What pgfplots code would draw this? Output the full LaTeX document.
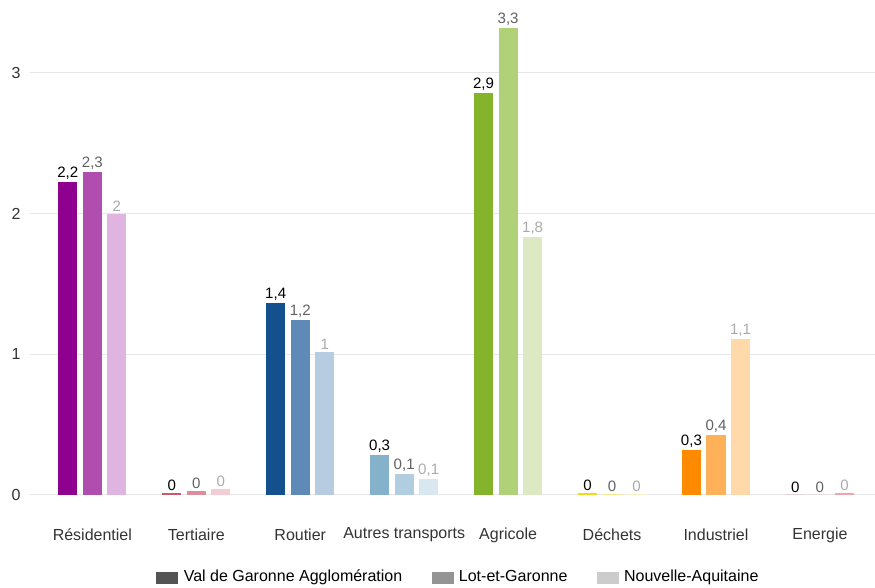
\documentclass[border=0pt]{standalone}
\usepackage{pgfplots}
\pgfplotsset{compat=1.18}
\usepackage{fontspec}
\setmainfont{Liberation Sans}

% category palettes: dark / medium / light
\definecolor{res1}{HTML}{8E008E}\definecolor{res2}{HTML}{B04EB0}\definecolor{res3}{HTML}{E0B4E0}
\definecolor{ter1}{HTML}{C9596D}\definecolor{ter2}{HTML}{DD8E9D}\definecolor{ter3}{HTML}{F2CDD4}
\definecolor{rou1}{HTML}{12508E}\definecolor{rou2}{HTML}{5F8AB8}\definecolor{rou3}{HTML}{B7CBE1}
\definecolor{aut1}{HTML}{85B1CB}\definecolor{aut2}{HTML}{B1CDE0}\definecolor{aut3}{HTML}{D9E7F1}
\definecolor{agr1}{HTML}{84B42B}\definecolor{agr2}{HTML}{B1D178}\definecolor{agr3}{HTML}{DDE9C2}
\definecolor{dec1}{HTML}{F3D81C}\definecolor{dec2}{HTML}{F5E78C}\definecolor{dec3}{HTML}{FAF1C9}
\definecolor{ind1}{HTML}{FF8A00}\definecolor{ind2}{HTML}{FFB15A}\definecolor{ind3}{HTML}{FFD9A9}
\definecolor{ene1}{HTML}{E05A6A}\definecolor{ene2}{HTML}{EA8C98}\definecolor{ene3}{HTML}{F0A4AE}
\definecolor{gridgray}{HTML}{E6E6E6}

\pgfplotsset{
  s1/.style={bar shift=-18.4pt, nodes near coords style={text=black}},
  s2/.style={bar shift=0pt, nodes near coords style={text=black!62}},
  s3/.style={bar shift=18.4pt, nodes near coords style={text=black!33}},
}

\begin{document}
\begin{tikzpicture}
\useasboundingbox (0,0) rectangle (656.25pt,441pt);
\begin{axis}[
  at={(22.5pt,59.25pt)}, anchor=south west,
  scale only axis, width=633.75pt, height=379.9pt,
  xmin=-0.6, xmax=7.53, ymin=-0.1, ymax=3.5,
  ybar, bar width=14.3pt,
  axis line style={draw=none}, major tick length=0pt,
  ymajorgrids, grid style={gridgray, line width=0.8pt},
  ytick={0,1,2,3},
  xtick={0,...,7},
  xticklabels={Résidentiel,Tertiaire,Routier,Autres transports,Agricole,Déchets,Industriel,Energie},
  xticklabel style={anchor=center, yshift=-19.5pt, text=black!80, font=\fontsize{12}{14}\selectfont},
  yticklabel style={anchor=center, xshift=-10.5pt, text=black!80, font=\fontsize{12}{14}\selectfont},
  /pgf/number format/assume math mode=true,
  nodes near coords,
  every node near coord/.append style={font=\fontsize{11.3}{13}\selectfont, inner sep=1.5pt,
    /pgf/number format/fixed, /pgf/number format/precision=1, /pgf/number format/use comma},
  every axis plot/.append style={draw=none},
  legend columns=3,
  legend style={at={(0.509,-0.136)}, anchor=center, draw=none, fill=none,
    font=\fontsize{12}{14}\selectfont,
    nodes={text height=8.6pt, text depth=2.6pt, inner xsep=4pt},
    /tikz/every even column/.append style={column sep=18pt}},
  legend image code/.code={\fill[#1] (0pt,-4.6pt) rectangle (16.5pt,4.6pt);},
]
\addlegendimage{fill=black!67}
\addlegendentry{Val de Garonne Agglomération}
\addlegendimage{fill=black!42}
\addlegendentry{Lot-et-Garonne}
\addlegendimage{fill=black!20}
\addlegendentry{Nouvelle-Aquitaine}

% Résidentiel
\addplot[s1, fill=res1] coordinates {(0,2.225)};
\addplot[s2, fill=res2] coordinates {(0,2.296)};
\addplot[s3, fill=res3] coordinates {(0,2.0)};
% Tertiaire
\addplot[s1, fill=ter1] coordinates {(1,0.017)};
\addplot[s2, fill=ter2] coordinates {(1,0.028)};
\addplot[s3, fill=ter3] coordinates {(1,0.040)};
% Routier
\addplot[s1, fill=rou1] coordinates {(2,1.365)};
\addplot[s2, fill=rou2] coordinates {(2,1.244)};
\addplot[s3, fill=rou3] coordinates {(2,1.016)};
% Autres transports
\addplot[s1, fill=aut1] coordinates {(3,0.284)};
\addplot[s2, fill=aut2] coordinates {(3,0.149)};
\addplot[s3, fill=aut3] coordinates {(3,0.114)};
% Agricole
\addplot[s1, fill=agr1] coordinates {(4,2.857)};
\addplot[s2, fill=agr2] coordinates {(4,3.320)};
\addplot[s3, fill=agr3] coordinates {(4,1.834)};
% Déchets
\addplot[s1, fill=dec1] coordinates {(5,0.012)};
\addplot[s2, fill=dec2] coordinates {(5,0.008)};
\addplot[s3, fill=dec3] coordinates {(5,0.006)};
% Industriel
\addplot[s1, fill=ind1] coordinates {(6,0.320)};
\addplot[s2, fill=ind2] coordinates {(6,0.426)};
\addplot[s3, fill=ind3] coordinates {(6,1.109)};
% Energie
\addplot[s1, fill=ene1] coordinates {(7,0.0)};
\addplot[s2, fill=ene2] coordinates {(7,0.0)};
\addplot[s3, fill=ene3] coordinates {(7,0.012)};
\end{axis}
\end{tikzpicture}
\end{document}
